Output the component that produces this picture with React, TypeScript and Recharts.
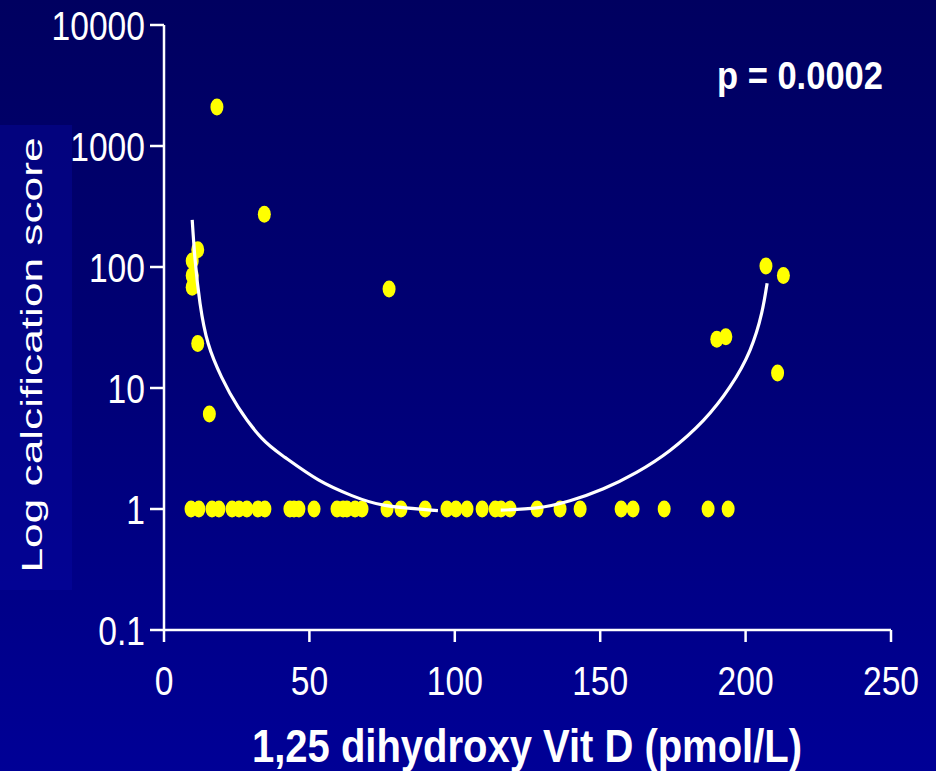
import * as React from "react";
import { ComposedChart, Scatter, Line, XAxis, YAxis } from "recharts";

// calcification score vs 1,25 dihydroxy Vit D
const X_TICKS = [0, 50, 100, 150, 200, 250];
const Y_TICKS = [0.1, 1, 10, 100, 1000, 10000];

// patients with score 1 (bottom row)
const baseVitD = [
  9.3, 12.0, 16.5, 18.9, 23.4, 25.8, 28.5, 32.3, 34.7, 43.3, 44.7, 46.4, 51.6,
  59.5, 61.6, 62.9, 65.7, 68.1, 76.7, 81.5, 89.8, 97.3, 100.4, 104.2, 109.4,
  113.9, 115.9, 119.0, 128.3, 136.2, 143.1, 157.2, 161.3, 172.0, 187.1, 194.0,
];

// patients with a score above 1
const raisedVitD = [18.2, 34.5, 11.6, 9.7, 9.7, 9.7, 11.6, 15.6, 77.4, 207.0, 213.0, 190.1, 193.2, 211.0];
const raisedScore = [2100, 273, 139, 112, 85, 68, 23.3, 6.1, 65.7, 102, 85, 25.3, 26.5, 13.3];

// fitted curve (two pieces)
const fitLeftX = [9.7, 10.7, 12.4, 15.2, 19.8, 25.5, 33.6, 41.6, 53.1, 64.6, 76.0, 94.2];
const fitLeftY = [245, 114, 50, 23.3, 12.3, 6.96, 3.85, 2.67, 1.74, 1.29, 1.07, 0.97];
const fitRightX = [115.8, 128.2, 139.6, 151.1, 162.5, 174.0, 185.5, 194.6, 201.5, 205.5, 207.4];
const fitRightY = [0.98, 1.02, 1.17, 1.47, 2.01, 3.05, 5.4, 10.2, 20.5, 41.3, 73.3];

const points = [
  ...baseVitD.map((x) => ({ x, y: 1 })),
  ...raisedVitD.map((x, i) => ({ x, y: raisedScore[i] })),
];
const fitLeft = fitLeftX.map((x, i) => ({ x, y: fitLeftY[i] }));
const fitRight = fitRightX.map((x, i) => ({ x, y: fitRightY[i] }));

const FONT = "'Liberation Sans', Arial, Helvetica, sans-serif";

function YTick(props: any) {
  const { x, y, payload } = props;
  const v = payload.value;
  return (
    <text
      transform={`translate(${x},${y}) scale(0.82,1)`}
      textAnchor="end"
      dy={15}
      fill="#fff"
      fontSize={41}
      fontFamily={FONT}
    >
      {v < 1 ? String(v) : String(Math.round(v))}
    </text>
  );
}

function XTick(props: any) {
  const { x, y, payload } = props;
  return (
    <text
      transform={`translate(${x},${y}) scale(0.82,1)`}
      textAnchor="middle"
      dy={49}
      fill="#fff"
      fontSize={41}
      fontFamily={FONT}
    >
      {String(payload.value)}
    </text>
  );
}

const Dot = (props: any) => (
  <ellipse cx={props.cx} cy={props.cy} rx={6.5} ry={8.5} fill="#ffff00" />
);

export default function App() {
  return (
    <div
      style={{
        position: "absolute",
        left: 0,
        top: 0,
        width: 936,
        height: 771,
        overflow: "hidden",
        background: "linear-gradient(to bottom, #000060 0%, #000074 45%, #000096 100%)",
      }}
    >
      {/* lighter box behind the y title */}
      <div
        style={{
          position: "absolute",
          left: 0,
          top: 125,
          width: 72,
          height: 465,
          background: "rgba(10,10,170,0.35)",
        }}
      />
      <ComposedChart
        width={936}
        height={771}
        margin={{ top: 25, right: 45, bottom: 81, left: 0 }}
        style={{ position: "absolute", left: 0, top: 0 }}
      >
        <XAxis
          type="number"
          dataKey="x"
          domain={[0, 250]}
          ticks={X_TICKS}
          allowDataOverflow
          height={60}
          stroke="#fff"
          strokeWidth={2.5}
          tickSize={12}
          tickMargin={4}
          tickLine={{ stroke: "#fff", strokeWidth: 2.5 }}
          tick={<XTick />}
        />
        <YAxis
          type="number"
          dataKey="y"
          scale="log"
          domain={[0.1, 10000]}
          ticks={Y_TICKS}
          allowDataOverflow
          width={164}
          stroke="#fff"
          strokeWidth={2.5}
          tickSize={14}
          tickMargin={5}
          tickLine={{ stroke: "#fff", strokeWidth: 2.5 }}
          tick={<YTick />}
        />
        <Scatter data={points} dataKey="y" shape={<Dot />} isAnimationActive={false} />
        <Line
          data={fitLeft}
          dataKey="y"
          type="natural"
          stroke="#fff"
          strokeWidth={3.2}
          dot={false}
          activeDot={false}
          isAnimationActive={false}
          zIndex={700}
        />
        <Line
          data={fitRight}
          dataKey="y"
          type="natural"
          stroke="#fff"
          strokeWidth={3.2}
          dot={false}
          activeDot={false}
          isAnimationActive={false}
          zIndex={700}
        />
      </ComposedChart>
      <svg
        width={936}
        height={771}
        style={{ position: "absolute", left: 0, top: 0, pointerEvents: "none" }}
      >
        <text
          transform="translate(42,355) rotate(-90)"
          textAnchor="middle"
          fill="#fff"
          fontSize={29}
          fontFamily={FONT}
          textLength={435}
          lengthAdjust="spacingAndGlyphs"
        >
          Log calcification score
        </text>
        <text
          x={527}
          y={762}
          textAnchor="middle"
          fill="#fff"
          fontSize={46}
          fontWeight="bold"
          fontFamily={FONT}
          textLength={550}
          lengthAdjust="spacingAndGlyphs"
        >
          1,25 dihydroxy Vit D (pmol/L)
        </text>
        <text
          x={717}
          y={89}
          fill="#fff"
          fontSize={39}
          fontWeight="bold"
          fontFamily={FONT}
          textLength={166}
          lengthAdjust="spacingAndGlyphs"
        >
          p = 0.0002
        </text>
      </svg>
    </div>
  );
}
